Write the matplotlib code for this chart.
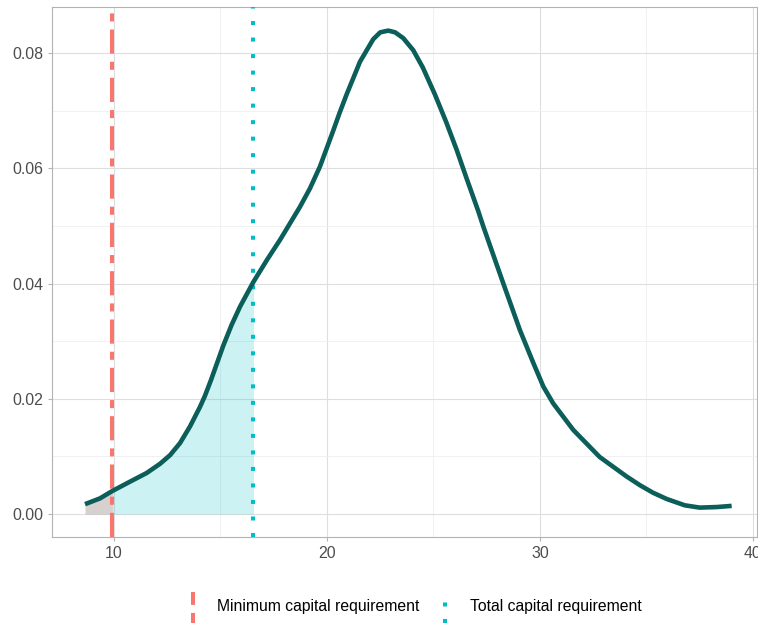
import numpy as np
import matplotlib.pyplot as plt
from matplotlib.lines import Line2D

plt.rcParams["font.family"] = ["Liberation Sans", "DejaVu Sans"]

# density curve
x = [8.64, 9.34, 9.93, 10.75, 11.53, 12.16, 12.63, 13.1, 13.57, 14.04, 14.27,
     14.55, 15.13, 15.52, 15.92, 16.55, 17.2, 17.8, 18.73, 19.2, 19.67, 20.3,
     20.6, 20.92, 21.55, 22.17, 22.5, 22.88, 23.2, 23.58, 24.05, 24.5, 25.07,
     25.6, 26.09, 26.56, 27.1, 27.34, 28.28, 29.06, 29.69, 30.16, 30.62, 31.56,
     32.8, 34.07, 34.69, 35.3, 35.95, 36.8, 37.5, 38.3, 39.0]
y = [0.0017, 0.0027, 0.0040, 0.0056, 0.0071, 0.0087, 0.0102, 0.0123, 0.0152,
     0.0186, 0.0205, 0.0232, 0.0292, 0.0328, 0.0360, 0.0403, 0.0442, 0.0476,
     0.0533, 0.0565, 0.0603, 0.0666, 0.0697, 0.0728, 0.0785, 0.0824, 0.0836,
     0.0839, 0.0836, 0.0826, 0.0805, 0.0775, 0.0728, 0.0680, 0.0632, 0.0582,
     0.0526, 0.0499, 0.0400, 0.0319, 0.0262, 0.0221, 0.0192, 0.0146, 0.0099,
     0.0065, 0.0050, 0.0037, 0.0026, 0.0015, 0.0011, 0.0012, 0.0014]
min_req = 9.93
total_req = 16.55
labels = ["Minimum capital requirement", "Total capital requirement"]

x = np.array(x); y = np.array(y)
RED, CYAN, LINE = "#F8766D", "#00BFC4", "#0B5E59"

fig = plt.figure(figsize=(7.58, 6.24), dpi=100)
ax = fig.add_axes([52 / 758, 1 - 537 / 624, 705 / 758, 530 / 624])

m1 = x <= min_req
m2 = (x >= min_req) & (x <= total_req)
ax.fill_between(x[m1], 0, y[m1], color="#8b7b75", alpha=0.35, lw=0, zorder=2)
ax.fill_between(x[m2], 0, y[m2], color=CYAN, alpha=0.2, lw=0, zorder=2)

ax.axvline(min_req, color=RED, lw=2.9, dashes=(6, 2, 2, 2), dash_capstyle="butt", zorder=3)
ax.axvline(total_req, color=CYAN, lw=2.9, dashes=(1, 3.1), dash_capstyle="butt", zorder=3)
ax.plot(x, y, color=LINE, lw=3.3, solid_capstyle="butt", solid_joinstyle="round", zorder=4)

ax.set_xlim(7.09, 40.19)
ax.set_ylim(-0.0040, 0.0880)
ax.set_xticks([10, 20, 30, 40])
ax.set_xticks([15, 25, 35], minor=True)
ax.set_yticks([0, 0.02, 0.04, 0.06, 0.08])
ax.set_yticklabels(["0.00", "0.02", "0.04", "0.06", "0.08"])
ax.set_yticks([0.01, 0.03, 0.05, 0.07], minor=True)
ax.grid(which="major", color="#DEDEDE", lw=0.8, zorder=0)
ax.grid(which="minor", color="#EFEFEF", lw=0.6, zorder=0)
ax.set_axisbelow(True)
ax.tick_params(which="major", length=3, width=0.8, color="#B3B3B3",
               labelsize=11.4, labelcolor="#4D4D4D", pad=3.5)
ax.tick_params(which="minor", length=0)
for s in ax.spines.values():
    s.set_color("#B3B3B3"); s.set_linewidth(0.8)

# legend below the panel, vertical keys as in the reference
for kx, tx, col, dash, lab in [(193, 217, RED, (2.5, 2, 3.5, 2), labels[0]),
                               (445, 470, CYAN, (1, 3.1), labels[1])]:
    fig.add_artist(Line2D([kx / 758, kx / 758], [1 - 623 / 624, 1 - 592 / 624],
                          transform=fig.transFigure, color=col, lw=2.9,
                          dashes=dash, dash_capstyle="butt"))
    fig.text(tx / 758, 1 - 606 / 624, lab, fontsize=11.3, va="center", ha="left",
             color="black")

fig.savefig("out.png", dpi=100)
